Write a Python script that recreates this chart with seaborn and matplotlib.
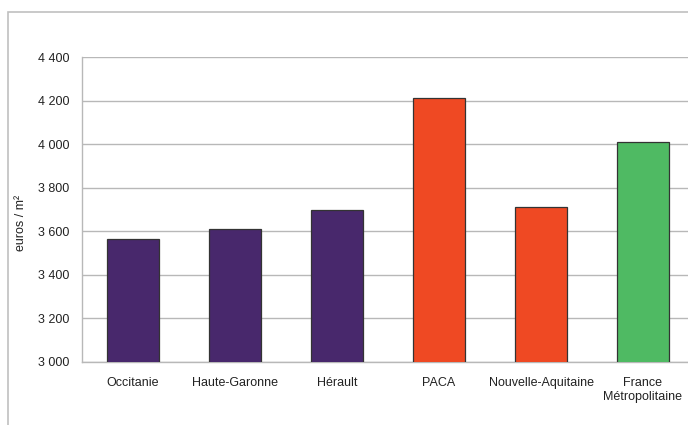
import matplotlib
matplotlib.use("Agg")
import matplotlib.pyplot as plt
import seaborn as sns
import pandas as pd
from matplotlib.patches import Rectangle

# data
regions = ["Occitanie", "Haute-Garonne", "Hérault", "PACA",
           "Nouvelle-Aquitaine", "France\nMétropolitaine"]
prices = [3565, 3610, 3700, 4210, 3710, 4010]
bar_colors = ["#48286c", "#48286c", "#48286c", "#ef4923", "#ef4923", "#4fba63"]
y_ticks = [3000, 3200, 3400, 3600, 3800, 4000, 4200, 4400]
y_labels = ["3 000", "3 200", "3 400", "3 600", "3 800", "4 000", "4 200", "4 400"]

df = pd.DataFrame({"region": regions, "price": prices})

sns.set_style("white")
plt.rcParams["font.family"] = ["Liberation Sans", "DejaVu Sans"]

fig = plt.figure(figsize=(6.88, 4.25), dpi=100)

# outer frame of the chart (cropped on the right and bottom)
fig.patches.append(Rectangle((8 / 688, -0.1), 1.2, 1 - 12 / 425 + 0.1,
                             transform=fig.transFigure, fill=False,
                             edgecolor="#c0c0c0", linewidth=1.2))

ax = fig.add_axes([82 / 688, 1 - 362 / 425, 612 / 688, 305 / 425])

sns.barplot(
    data=df, x="region", y="price", hue="region",
    palette=bar_colors, legend=False, width=0.51,
    edgecolor="#333333", linewidth=0.9, saturation=1, ax=ax,
    zorder=3
)

ax.set_xlim(-0.5, 5.5)
ax.set_ylim(3000, 4400)
ax.set_yticks(y_ticks)
ax.set_yticklabels(y_labels, fontsize=9, color="#222222")
ax.yaxis.grid(True, color="#b8b8b8", linewidth=1)
ax.set_axisbelow(True)

# ticks between categories
ax.set_xticks(range(len(regions)))
ax.set_xticklabels(regions, fontsize=9, color="#222222")
ax.set_xticks([i - 0.5 for i in range(len(regions) + 1)], minor=True)
ax.tick_params(axis="x", which="major", length=0, pad=11)
ax.tick_params(axis="x", which="minor", length=5, color="#b8b8b8", width=1)
ax.tick_params(axis="y", length=5, color="#b8b8b8", width=1, pad=4)

for side in ["top", "right"]:
    ax.spines[side].set_visible(False)
for side in ["left", "bottom"]:
    ax.spines[side].set_color("#b8b8b8")
    ax.spines[side].set_linewidth(1)

ax.set_xlabel("")
ax.set_ylabel("euros / m²", fontsize=9, color="#222222")
ax.yaxis.set_label_coords(-0.09, 0.456)

fig.savefig("out.png", dpi=100)
